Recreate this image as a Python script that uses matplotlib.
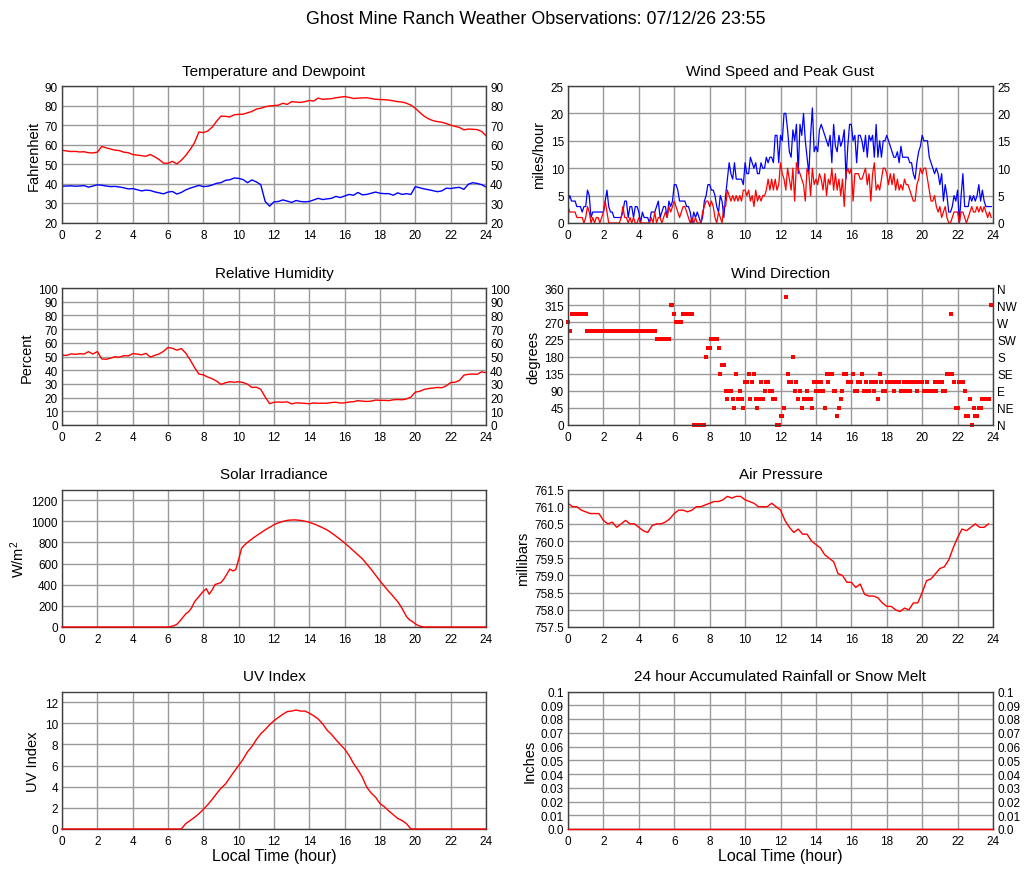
import numpy as np
import matplotlib
matplotlib.use('Agg')
import matplotlib.pyplot as plt

plt.rcParams['font.family'] = ['Liberation Sans', 'DejaVu Sans']
plt.rcParams['mathtext.default'] = 'regular'

TITLE = 'Ghost Mine Ranch Weather Observations: 07/12/26 23:55'

# time axes (hours)
t15 = np.arange(97) * 0.25     # 15 minute readings
t10 = np.arange(145) / 6.0     # 10 minute readings
t06 = np.arange(240) / 10.0    # 6 minute readings

# --- temperature / dewpoint (F), 15 min
temp_f = [
    57.2, 56.8, 56.5, 56.6, 56.3, 56.4, 55.9, 55.8,
    56.2, 59.1, 58.4, 57.8, 57.2, 57.0, 56.2, 55.9,
    55.0, 54.7, 54.4, 54.1, 55.0, 53.8, 52.4, 50.6,
    50.5, 51.5, 50.2, 52.0, 54.5, 57.5, 61.0, 66.5,
    66.2, 67.0, 69.0, 72.0, 74.6, 74.5, 74.2, 75.3,
    75.5, 75.6, 76.3, 77.0, 78.2, 78.6, 79.4, 79.8,
    80.0, 80.2, 81.2, 80.6, 82.0, 81.8, 81.6, 82.0,
    82.6, 82.3, 83.8, 83.2, 83.4, 83.5, 84.0, 84.3,
    84.6, 84.2, 83.6, 83.8, 83.9, 84.0, 83.6, 83.2,
    83.1, 83.0, 82.8, 82.4, 82.0, 81.8, 81.2, 80.2,
    78.6, 76.5, 74.6, 73.2, 72.3, 71.8, 71.5, 70.8,
    70.0, 69.4, 68.8, 67.6, 68.0, 67.9, 67.7, 66.8,
    64.6]
dewpt_f = [
    38.8, 38.9, 39.0, 38.8, 38.9, 39.1, 38.3, 38.9,
    39.5, 39.3, 38.9, 38.6, 38.7, 38.4, 38.0, 37.4,
    37.6, 37.0, 36.4, 36.8, 36.6, 35.9, 35.4, 34.9,
    35.8, 36.1, 34.8, 35.6, 36.9, 37.8, 38.5, 39.2,
    38.6, 38.8, 39.4, 40.3, 40.6, 41.8, 42.1, 43.0,
    42.8, 42.2, 40.6, 42.0, 41.0, 39.6, 31.0, 28.6,
    30.8, 31.0, 31.8, 31.2, 30.5, 31.5, 31.0, 30.8,
    31.0, 31.8, 32.6, 32.0, 32.3, 32.6, 33.6, 33.0,
    33.8, 34.6, 34.2, 35.6, 34.4, 34.6, 35.2, 35.8,
    35.2, 35.0, 35.0, 34.2, 35.4, 34.6, 35.0, 34.6,
    38.6, 38.0, 37.4, 37.0, 36.5, 36.0, 36.4, 37.8,
    37.6, 38.0, 38.2, 37.2, 39.8, 40.6, 40.2, 39.6,
    38.4]

# --- relative humidity (%), 15 min
rh_pct = [
    51.0, 50.8, 51.9, 51.6, 52.0, 51.8, 53.5, 51.8,
    53.6, 48.2, 48.0, 48.8, 49.8, 49.5, 50.6, 50.4,
    52.1, 51.8, 51.2, 52.3, 49.6, 50.8, 51.9, 53.8,
    56.6, 56.0, 54.6, 55.8, 52.6, 47.6, 42.0, 37.2,
    36.6, 35.0, 33.8, 32.0, 29.6, 30.8, 31.6, 31.2,
    31.6, 31.0, 29.8, 27.4, 27.6, 26.0, 20.5, 15.6,
    16.6, 16.8, 16.6, 16.9, 15.4, 16.2, 16.0, 15.8,
    15.5, 16.1, 15.9, 15.9, 15.9, 16.4, 16.6, 16.0,
    16.2, 16.8, 17.0, 17.8, 17.4, 17.2, 17.4, 18.2,
    18.0, 18.0, 17.8, 18.4, 18.6, 18.4, 19.0, 20.4,
    24.0, 24.6, 26.0, 26.6, 27.0, 27.4, 27.2, 28.6,
    31.0, 31.2, 32.6, 36.4, 37.0, 37.2, 37.0, 38.8,
    38.2]

# --- wind speed / gust (mph), 6 min
gust_mph = [
    4, 5, 4, 4, 4, 3, 3, 3, 2, 3,
    3, 6, 5, 1, 2, 2, 2, 2, 2, 2,
    2, 4, 6, 3, 2, 2, 1, 1, 1, 1,
    1, 2, 4, 4, 1, 3, 3, 1, 3, 3,
    2, 0, 2, 1, 1, 1, 0, 2, 2, 2,
    3, 4, 1, 2, 3, 3, 1, 4, 3, 4,
    7, 7, 6, 4, 4, 4, 4, 3, 3, 2,
    0, 2, 1, 2, 1, 0, 1, 4, 5, 7,
    7, 6, 6, 5, 3, 2, 5, 4, 1, 5,
    8, 11, 9, 8, 11, 8, 8, 8, 8, 7,
    11, 9, 9, 12, 11, 10, 11, 9, 9, 11,
    10, 10, 12, 11, 12, 12, 11, 16, 16, 11,
    16, 15, 20, 20, 17, 13, 12, 17, 15, 18,
    9, 18, 16, 20, 15, 12, 9, 16, 21, 13,
    14, 13, 17, 18, 17, 16, 15, 14, 16, 11,
    18, 14, 13, 16, 14, 15, 17, 8, 14, 18,
    18, 15, 16, 11, 16, 16, 15, 13, 16, 12,
    16, 15, 16, 12, 18, 12, 15, 12, 15, 15,
    16, 15, 14, 13, 12, 12, 13, 11, 14, 12,
    12, 12, 12, 11, 11, 9, 8, 11, 13, 14,
    16, 15, 15, 15, 12, 11, 10, 9, 10, 9,
    7, 9, 4, 7, 5, 2, 2, 3, 5, 4,
    6, 0, 5, 9, 3, 3, 3, 5, 4, 5,
    4, 5, 7, 4, 6, 4, 3, 3, 3, 3]
speed_mph = [
    3, 2, 2, 2, 2, 1, 1, 1, 1, 0,
    1, 3, 2, 0, 1, 0, 1, 1, 0, 1,
    2, 4, 2, 0, 0, 0, 0, 0, 0, 0,
    1, 3, 1, 1, 0, 1, 0, 1, 0, 0,
    1, 0, 0, 0, 0, 0, 0, 1, 0, 2,
    0, 1, 1, 0, 1, 2, 1, 3, 2, 3,
    4, 3, 2, 1, 2, 3, 3, 2, 1, 0,
    1, 0, 1, 0, 0, 0, 2, 3, 4, 4,
    3, 4, 3, 1, 0, 2, 1, 0, 3, 3,
    6, 5, 4, 5, 4, 5, 4, 5, 4, 6,
    6, 5, 6, 4, 5, 3, 6, 4, 5, 4,
    5, 5, 6, 8, 6, 8, 6, 8, 6, 7,
    11, 9, 8, 6, 10, 8, 6, 10, 4, 11,
    10, 9, 8, 7, 4, 10, 9, 5, 10, 7,
    8, 7, 9, 8, 6, 9, 5, 8, 7, 10,
    6, 9, 6, 8, 5, 8, 3, 9, 10, 9,
    10, 4, 9, 9, 9, 8, 8, 9, 10, 7,
    9, 4, 9, 11, 6, 7, 6, 8, 10, 10,
    9, 7, 9, 7, 9, 6, 8, 6, 7, 6,
    8, 7, 7, 6, 5, 4, 4, 7, 8, 10,
    9, 10, 10, 8, 6, 4, 4, 5, 3, 2,
    3, 1, 2, 3, 1, 0, 0, 1, 2, 2,
    2, 0, 2, 2, 1, 0, 1, 2, 3, 2,
    2, 3, 2, 3, 2, 3, 2, 1, 2, 1]

# --- wind direction (degrees), 6 min
wind_dir = [
    270, 247.5, 292.5, 292.5, 292.5, 292.5, 292.5, 292.5, 292.5, 292.5,
    292.5, 247.5, 247.5, 247.5, 247.5, 247.5, 247.5, 247.5, 247.5, 247.5,
    247.5, 247.5, 247.5, 247.5, 247.5, 247.5, 247.5, 247.5, 247.5, 247.5,
    247.5, 247.5, 247.5, 247.5, 247.5, 247.5, 247.5, 247.5, 247.5, 247.5,
    247.5, 247.5, 247.5, 247.5, 247.5, 247.5, 247.5, 247.5, 247.5, 247.5,
    225, 225, 225, 225, 225, 225, 225, 225, 315, 315,
    292.5, 270, 270, 270, 270, 292.5, 292.5, 292.5, 292.5, 292.5,
    292.5, 0, 0, 0, 0, 0, 0, 0, 180, 202.5,
    202.5, 225, 225, 225, 225, 202.5, 135, 157.5, 157.5, 90,
    67.5, 90, 90, 67.5, 45, 135, 67.5, 90, 67.5, 45,
    112.5, 112.5, 135, 67.5, 112.5, 135, 67.5, 45, 67.5, 112.5,
    67.5, 90, 112.5, 112.5, 90, 90, 67.5, 67.5, 0, 0,
    22.5, 22.5, 45, 337.5, 135, 112.5, 112.5, 180, 90, 112.5,
    67.5, 90, 45, 67.5, 67.5, 90, 67.5, 67.5, 45, 112.5,
    90, 112.5, 90, 112.5, 90, 45, 135, 112.5, 135, 135,
    90, 90, 22.5, 45, 67.5, 90, 135, 135, 112.5, 112.5,
    112.5, 135, 90, 90, 112.5, 112.5, 135, 90, 112.5, 90,
    90, 112.5, 112.5, 90, 112.5, 67.5, 135, 112.5, 90, 90,
    112.5, 112.5, 112.5, 112.5, 90, 112.5, 112.5, 112.5, 90, 90,
    112.5, 90, 112.5, 90, 112.5, 112.5, 112.5, 90, 112.5, 112.5,
    112.5, 90, 90, 112.5, 90, 90, 90, 112.5, 90, 112.5,
    112.5, 112.5, 90, 90, 135, 135, 292.5, 135, 112.5, 45,
    45, 112.5, 112.5, 112.5, 90, 22.5, 22.5, 67.5, 0, 45,
    22.5, 22.5, 45, 45, 67.5, 67.5, 67.5, 67.5, 67.5, 315]
compass = ['N', 'NE', 'E', 'SE', 'S', 'SW', 'W', 'NW', 'N']

# --- solar irradiance (W/m2), 10 min
solar_wm2 = [
    0, 0, 0, 0, 0, 0, 0, 0, 0, 0, 0, 0,
    0, 0, 0, 0, 0, 0, 0, 0, 0, 0, 0, 0,
    0, 0, 0, 0, 0, 0, 0, 0, 0, 0, 0, 0,
    0, 5, 12, 25, 55, 90, 124, 145, 180, 238, 272, 305,
    337, 362, 310, 352, 402, 410, 420, 455, 500, 548, 530, 542,
    640, 745, 775, 800, 822, 843, 862, 880, 900, 918, 935, 950,
    968, 980, 990, 998, 1005, 1010, 1012, 1013, 1011, 1008, 1003, 997,
    990, 980, 970, 958, 945, 932, 918, 900, 880, 860, 838, 815,
    795, 770, 745, 720, 695, 670, 645, 612, 578, 545, 508, 472,
    435, 402, 368, 335, 305, 272, 240, 198, 150, 98, 68, 52,
    30, 14, 4, 0, 0, 0, 0, 0, 0, 0, 0, 0,
    0, 0, 0, 0, 0, 0, 0, 0, 0, 0, 0, 0,
    0]

# --- air pressure (mb), 15 min
press_mb = [
    761.1, 761.0, 761.0, 760.9, 760.85, 760.8, 760.8, 760.8,
    760.6, 760.5, 760.55, 760.4, 760.5, 760.6, 760.5, 760.5,
    760.4, 760.3, 760.25, 760.45, 760.5, 760.5, 760.55, 760.65,
    760.8, 760.9, 760.9, 760.85, 760.9, 761.0, 761.0, 761.05,
    761.1, 761.15, 761.15, 761.2, 761.3, 761.25, 761.3, 761.3,
    761.2, 761.15, 761.1, 761.0, 761.0, 761.0, 761.1, 761.0,
    760.9, 760.6, 760.4, 760.25, 760.35, 760.2, 760.2, 760.0,
    759.9, 759.8, 759.6, 759.5, 759.4, 759.05, 759.0, 758.8,
    758.8, 758.65, 758.75, 758.45, 758.4, 758.4, 758.35, 758.2,
    758.1, 758.1, 758.0, 757.95, 758.05, 758.0, 758.2, 758.2,
    758.5, 758.85, 758.9, 759.05, 759.2, 759.25, 759.45, 759.8,
    760.1, 760.35, 760.3, 760.4, 760.5, 760.4, 760.4, 760.5,
    760.6]

# --- UV index, 15 min
uv_index = [
    0, 0, 0, 0, 0, 0, 0, 0,
    0, 0, 0, 0, 0, 0, 0, 0,
    0, 0, 0, 0, 0, 0, 0, 0,
    0, 0, 0, 0, 0.5, 0.8, 1.1, 1.45,
    1.85, 2.3, 2.8, 3.35, 3.85, 4.25, 4.85, 5.45,
    6.0, 6.6, 7.3, 7.8, 8.45, 9.0, 9.4, 9.85,
    10.25, 10.55, 10.85, 11.1, 11.15, 11.25, 11.15, 11.15,
    10.95, 10.7, 10.4, 9.95, 9.35, 8.95, 8.45, 8.0,
    7.55, 6.95, 6.2, 5.6, 4.9, 3.95, 3.4, 3.0,
    2.4, 2.1, 1.7, 1.35, 1.0, 0.8, 0.5, 0.0,
    0, 0, 0, 0, 0, 0, 0, 0,
    0, 0, 0, 0, 0, 0, 0, 0,
    0]

# --- rainfall (inches), hourly
t_rain = np.arange(25)
rain_in = [0.0, 0.0, 0.0, 0.0, 0.0, 0.0, 0.0, 0.0, 0.0, 0.0, 0.0, 0.0, 0.0,
           0.0, 0.0, 0.0, 0.0, 0.0, 0.0, 0.0, 0.0, 0.0, 0.0, 0.0, 0.0]
rain_ticks = [0.0, 0.01, 0.02, 0.03, 0.04, 0.05, 0.06, 0.07, 0.08, 0.09, 0.1]
rain_labels = ['0.0', '0.01', '0.02', '0.03', '0.04', '0.05', '0.06', '0.07', '0.08', '0.09', '0.1']

W, H = 1027, 878
fig = plt.figure(figsize=(W / 100, H / 100), dpi=100)
fig.text(536 / W, 1 - 19 / H, TITLE, ha='center', va='center', fontsize=12.9)

cols = [(62, 486), (568, 993)]
rows = [(87, 224), (289, 426), (490.5, 628), (692.5, 830)]


def panel(r, c, title, ylabel, ylim, yticks, ylabels=None, right=None, xlabel=False):
    x0, x1 = cols[c]
    y0, y1 = rows[r]
    ax = fig.add_axes([x0 / W, 1 - y1 / H, (x1 - x0) / W, (y1 - y0) / H])
    ax.set_xlim(0, 24)
    ax.set_ylim(*ylim)
    ax.set_xticks(range(0, 25, 2))
    ax.set_yticks(yticks)
    if ylabels is not None:
        ax.set_yticklabels(ylabels)
    ax.grid(True, color='#9a9a9a', lw=1.0)
    ax.set_axisbelow(True)
    ax.tick_params(length=0, labelsize=8.5, pad=3)
    ax.tick_params(axis='x', pad=4)
    for s in ax.spines.values():
        s.set_color('#404040')
        s.set_linewidth(1.0)
    ax.set_title(title, fontsize=11, pad=8)
    ax.set_ylabel(ylabel, fontsize=10.5, labelpad=3)
    if xlabel:
        ax.set_xlabel('Local Time (hour)', fontsize=11.5, labelpad=1)
    if right is not None:
        ax2 = ax.twinx()
        ax2.set_ylim(*ylim)
        ax2.set_yticks(yticks)
        ax2.set_yticklabels(right)
        ax2.tick_params(length=0, labelsize=8.5, pad=3)
        for s in ax2.spines.values():
            s.set_visible(False)
    return ax


def labels(ticks):
    return [str(v) for v in ticks]


# temperature
ticks = list(range(20, 91, 10))
ax = panel(0, 0, 'Temperature and Dewpoint', 'Fahrenheit', (20, 90), ticks, right=labels(ticks))
ax.plot(t15, temp_f, color='#ff0000', lw=1.0)
ax.plot(t15, dewpt_f, color='#0000ff', lw=1.0)

# wind speed
ticks = list(range(0, 26, 5))
ax = panel(0, 1, 'Wind Speed and Peak Gust', 'miles/hour', (0, 25), ticks, right=labels(ticks))
ax.plot(t06, gust_mph, color='#0000ff', lw=0.9)
ax.plot(t06, speed_mph, color='#ff0000', lw=0.9)

# humidity
ticks = list(range(0, 101, 10))
ax = panel(1, 0, 'Relative Humidity', 'Percent', (0, 100), ticks, right=labels(ticks))
ax.plot(t15, rh_pct, color='#ff0000', lw=1.0)

# wind direction
ticks = [0, 45, 90, 135, 180, 225, 270, 315, 360]
ax = panel(1, 1, 'Wind Direction', 'degrees', (0, 360), ticks, right=compass)
ax.plot(t06, wind_dir, 's', color='#ff0000', ms=2.9, mew=0, clip_on=False)

# solar
ax = panel(2, 0, 'Solar Irradiance', 'W/m$^{2}$', (0, 1300), list(range(0, 1201, 200)))
ax.plot(t10, solar_wm2, color='#ff0000', lw=1.0, clip_on=False, zorder=3)

# pressure
ticks = [757.5, 758.0, 758.5, 759.0, 759.5, 760.0, 760.5, 761.0, 761.5]
ax = panel(2, 1, 'Air Pressure', 'millibars', (757.5, 761.5), ticks, ylabels=['%.1f' % v for v in ticks])
ax.plot(t15[:-1], press_mb[:-1], color='#ff0000', lw=1.0)

# UV
ax = panel(3, 0, 'UV Index', 'UV Index', (0, 13), list(range(0, 13, 2)), xlabel=True)
ax.plot(t15, uv_index, color='#ff0000', lw=1.0, clip_on=False, zorder=3)

# rain
ax = panel(3, 1, '24 hour Accumulated Rainfall or Snow Melt', 'Inches', (0, 0.1), rain_ticks,
           ylabels=rain_labels, right=rain_labels, xlabel=True)
ax.plot(t_rain, rain_in, color='#ff0000', lw=1.0, clip_on=False, zorder=3)

fig.savefig('out.png', dpi=100)
